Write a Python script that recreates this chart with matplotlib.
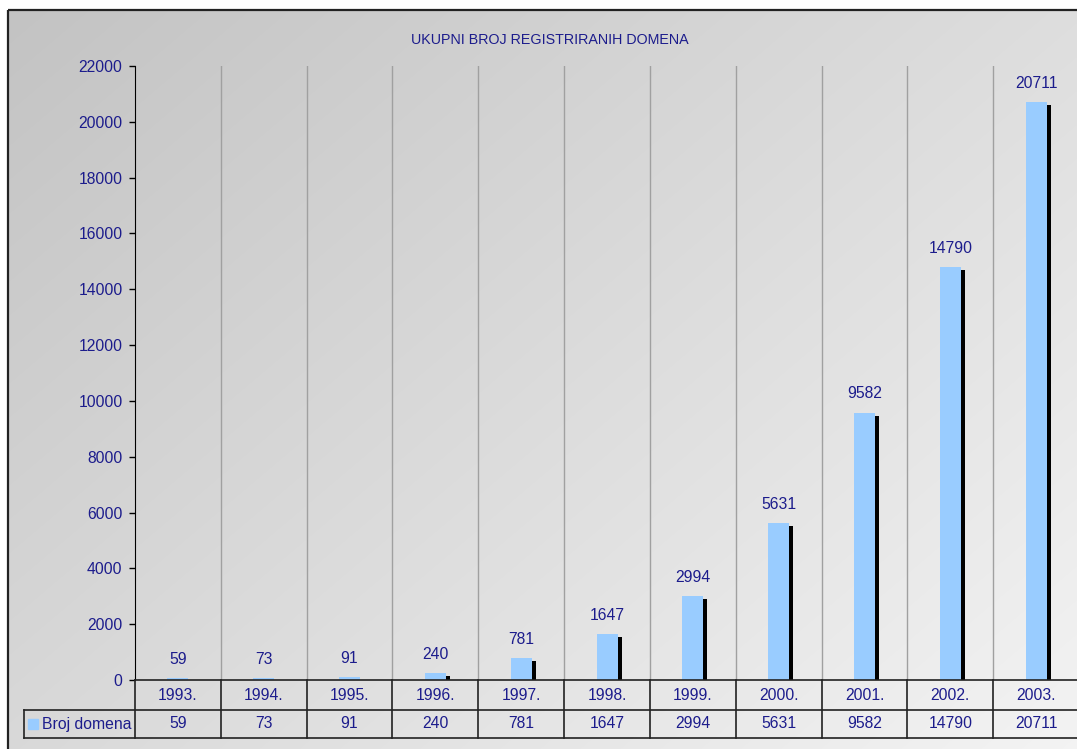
#!/usr/bin/env python3
"""Ukupni broj registriranih domena, 1993.-2003., bar chart with data table."""

import numpy as np
import matplotlib.pyplot as plt
from matplotlib.patches import Rectangle
from matplotlib.lines import Line2D

plt.rcParams["font.family"] = ["Liberation Sans", "DejaVu Sans"]

years = ["1993.", "1994.", "1995.", "1996.", "1997.", "1998.",
         "1999.", "2000.", "2001.", "2002.", "2003."]
domains = [59, 73, 91, 240, 781, 1647, 2994, 5631, 9582, 14790, 20711]
series_name = "Broj domena"
title = "UKUPNI BROJ REGISTRIRANIH DOMENA"
yticks = list(range(0, 22001, 2000))

W, H = 1077, 749
NAVY = "#1c1c8c"
BAR = "#99ccff"

fig = plt.figure(figsize=(W / 100, H / 100), dpi=100)

# background: white page, framed gradient panel
bg = fig.add_axes([0, 0, 1, 1], zorder=-10)
bg.set_axis_off()
bg.set_xlim(0, W)
bg.set_ylim(H, 0)
xx, yy = np.meshgrid(np.linspace(0, 1, 200), np.linspace(0, 1, 200))
t = 0.55 * xx + 0.45 * yy
grad = 0.765 + (0.955 - 0.765) * t
bg.imshow(np.dstack([grad, grad, grad]), extent=(8, W + 5, H + 5, 10),
          aspect="auto", interpolation="bilinear")
bg.add_patch(Rectangle((8, 10), W, H, fill=False, ec="#222222", lw=1.6))

fig.text(550 / W, 1 - 40 / H, title, ha="center", va="center",
         color=NAVY, fontsize=10.3)

# main plot area
left, right, top, bottom = 135, 1079, 66, 680
ax = fig.add_axes([left / W, 1 - bottom / H, (right - left) / W, (bottom - top) / H])
ax.patch.set_alpha(0)
n = len(years)
x = np.arange(n)
ax.set_xlim(-0.5, n - 0.5)
ax.set_ylim(0, 22000)

px_x = n / (right - left)          # data units per pixel, x
px_y = 22000 / (bottom - top)      # data units per pixel, y
bw = 21 * px_x

shadow_h = np.clip(np.array(domains) - 3 * px_y, 0, None)
ax.bar(x + 4 * px_x, shadow_h, width=bw, color="black", zorder=2)
ax.bar(x, domains, width=bw, color=BAR, zorder=3)

for xi, v in zip(x, domains):
    ax.annotate(str(v), (xi, v), xytext=(0, 8), textcoords="offset points",
                ha="center", va="bottom", color=NAVY, fontsize=11.3)

for b in np.arange(0.5, n - 0.5, 1):
    ax.axvline(b, color="#a0a0a0", lw=1, zorder=1)

ax.set_yticks(yticks)
ax.set_yticklabels([str(v) for v in yticks], color=NAVY, fontsize=11.3)
ax.tick_params(axis="y", direction="out", length=4, width=1, color="black", pad=5)
ax.set_xticks([])
for s in ["top", "right", "bottom"]:
    ax.spines[s].set_visible(False)
ax.spines["left"].set_color("black")

# data table below the axis
tr = ax.get_xaxis_transform()
ah = bottom - top
r1 = -30 / ah
r2 = -58 / ah
lx = (24 - left) / (right - left) * n - 0.5
for xi, yr, v in zip(x, years, domains):
    ax.text(xi, -15 / ah, yr, transform=tr, ha="center", va="center",
            color=NAVY, fontsize=11.3, clip_on=False)
    ax.text(xi, -44 / ah, str(v), transform=tr, ha="center", va="center",
            color=NAVY, fontsize=11.3, clip_on=False)

lines = [
    ([-0.5, n - 0.5], [0, 0]),
    ([lx, n - 0.5], [r1, r1]),
    ([lx, n - 0.5], [r2, r2]),
    ([lx, lx], [r1, r2]),
]
for b in np.arange(-0.5, n, 1):
    lines.append(([b, b], [0, r2]))
for xs, ys in lines:
    ax.add_line(Line2D(xs, ys, transform=tr, color="#222222", lw=1.2,
                       clip_on=False, zorder=4))

sq = 10 * px_x
ax.add_patch(Rectangle((lx + 4 * px_x, -49 / ah), sq, 10 / ah, transform=tr,
                       color=BAR, clip_on=False))
ax.text(lx + 18 * px_x, -44 / ah, series_name, transform=tr, ha="left",
        va="center", color=NAVY, fontsize=11.3, clip_on=False)

fig.savefig("out.png", dpi=100)
